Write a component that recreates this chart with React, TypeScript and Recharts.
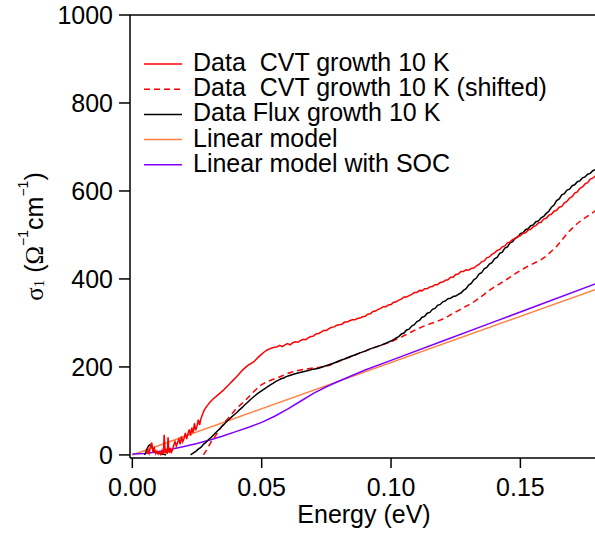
import React from 'react'
import { LineChart, Line, XAxis, YAxis, Legend, ReferenceLine } from 'recharts'

// [energy (eV), sigma_1 (1/(Ohm cm))]
const cvt: [number, number][] = [
  [0.0055, 2], [0.006, 12], [0.0065, 4], [0.007, 20], [0.0075, 28], [0.008, 6], [0.0085, 15], [0.009, 3],
  [0.0095, 9], [0.01, 2], [0.0105, 7], [0.011, 1], [0.0115, 10], [0.012, 3], [0.0123, 46], [0.0127, 4],
  [0.013, 14], [0.0135, 2], [0.0138, 40], [0.0142, 5], [0.0147, 16], [0.015, 4], [0.0155, 12], [0.016, 22],
  [0.0165, 30], [0.017, 20], [0.0175, 28], [0.018, 36], [0.0185, 24], [0.019, 42], [0.0195, 30], [0.02, 38],
  [0.0205, 50], [0.021, 36], [0.0215, 48], [0.022, 58], [0.0225, 44], [0.023, 62], [0.0235, 50], [0.024, 72],
  [0.0245, 56], [0.025, 66], [0.0255, 80], [0.026, 68], [0.0265, 82], [0.027, 90], [0.0275, 98], [0.028, 104],
  [0.029, 112], [0.03, 120], [0.031, 126], [0.032, 131], [0.033, 136], [0.034, 141], [0.035, 146], [0.036, 152],
  [0.037, 158], [0.038, 164], [0.039, 170], [0.04, 176], [0.041, 182], [0.042, 189], [0.043, 195], [0.044, 200],
  [0.045, 205], [0.046, 208], [0.047, 212], [0.048, 218], [0.049, 224], [0.05, 229], [0.051, 234], [0.052, 238],
  [0.053, 241], [0.054, 243], [0.055, 245], [0.056, 246], [0.057, 249], [0.058, 246], [0.059, 250], [0.06, 253],
  [0.061, 250], [0.062, 255], [0.063, 257], [0.064, 256], [0.065, 260], [0.066, 263], [0.067, 262], [0.068, 266],
  [0.069, 269], [0.07, 270], [0.071, 275], [0.072, 276], [0.073, 279], [0.074, 283], [0.075, 283], [0.076, 287],
  [0.077, 290], [0.078, 291], [0.079, 295], [0.08, 296], [0.081, 297], [0.082, 302], [0.083, 302], [0.084, 305],
  [0.085, 307], [0.086, 307], [0.087, 310], [0.088, 311], [0.089, 314], [0.09, 315], [0.091, 320], [0.092, 321],
  [0.093, 326], [0.094, 327], [0.095, 331], [0.096, 333], [0.097, 337], [0.098, 337], [0.099, 341], [0.1, 342],
  [0.101, 347], [0.102, 348], [0.103, 352], [0.104, 354], [0.105, 359], [0.106, 359], [0.107, 362], [0.108, 365],
  [0.109, 369], [0.11, 369], [0.111, 374], [0.112, 373], [0.113, 378], [0.114, 378], [0.115, 382], [0.116, 383],
  [0.117, 387], [0.118, 387], [0.119, 392], [0.12, 393], [0.121, 397], [0.122, 398], [0.123, 404], [0.124, 404],
  [0.125, 410], [0.126, 411], [0.127, 417], [0.128, 417], [0.129, 421], [0.13, 420], [0.131, 424], [0.132, 425],
  [0.133, 430], [0.134, 433], [0.135, 439], [0.136, 441], [0.137, 448], [0.138, 450], [0.139, 456], [0.14, 459],
  [0.141, 465], [0.142, 467], [0.143, 473], [0.144, 475], [0.145, 482], [0.146, 484], [0.147, 490], [0.148, 491],
  [0.149, 497], [0.15, 498], [0.151, 504], [0.152, 505], [0.153, 511], [0.154, 513], [0.155, 519], [0.156, 521],
  [0.157, 528], [0.158, 529], [0.159, 536], [0.16, 538], [0.161, 545], [0.162, 547], [0.163, 554], [0.164, 556],
  [0.165, 563], [0.166, 565], [0.167, 573], [0.168, 576], [0.169, 584], [0.17, 587], [0.171, 595], [0.172, 598],
  [0.173, 606], [0.174, 609], [0.175, 616], [0.176, 619], [0.177, 627], [0.178, 629], [0.1795, 637],
]

const cvtShifted: [number, number][] = [
  [0.0275, 0], [0.029, 14], [0.0305, 30], [0.032, 42], [0.034, 60], [0.036, 76], [0.038, 90], [0.04, 104],
  [0.042, 115], [0.044, 126], [0.046, 138], [0.048, 150], [0.05, 160], [0.052, 166], [0.054, 171], [0.056, 175],
  [0.058, 180], [0.06, 185], [0.062, 189], [0.064, 192], [0.066, 194], [0.068, 196], [0.07, 198], [0.072, 199],
  [0.074, 201], [0.076, 203], [0.078, 208], [0.08, 213], [0.082, 218], [0.084, 222], [0.086, 227], [0.088, 232],
  [0.09, 236], [0.092, 241], [0.094, 245], [0.096, 249], [0.098, 253], [0.1, 257], [0.102, 263], [0.104, 268],
  [0.106, 274], [0.108, 280], [0.11, 286], [0.112, 291], [0.114, 296], [0.116, 300], [0.118, 304], [0.12, 309],
  [0.122, 315], [0.124, 322], [0.126, 328], [0.128, 335], [0.13, 341], [0.132, 348], [0.134, 356], [0.136, 365],
  [0.138, 374], [0.14, 382], [0.142, 389], [0.144, 396], [0.146, 404], [0.148, 412], [0.15, 419], [0.152, 426],
  [0.154, 432], [0.156, 438], [0.158, 444], [0.16, 452], [0.162, 463], [0.164, 474], [0.166, 488], [0.168, 503],
  [0.17, 515], [0.172, 526], [0.174, 535], [0.176, 543], [0.178, 551], [0.1795, 557],
]

// small bump at low energy, then the main onset
const fluxBump: [number, number][] = [
  [0.0047, 0], [0.0052, 6], [0.0057, 14], [0.0062, 20], [0.0067, 23], [0.0072, 22], [0.0077, 17], [0.0082, 12],
  [0.0087, 8], [0.0092, 6], [0.0097, 4], [0.0105, 3], [0.0115, 2], [0.0125, 1], [0.013, 0],
]

const flux: [number, number][] = [
  [0.0225, 0], [0.0235, 4], [0.0245, 8], [0.0255, 13], [0.0265, 17], [0.0275, 24], [0.0285, 29], [0.0295, 35],
  [0.0305, 40], [0.0315, 46], [0.0325, 52], [0.0335, 58], [0.0345, 64], [0.0355, 70], [0.0365, 76], [0.0375, 81],
  [0.0385, 87], [0.0395, 92], [0.0405, 97], [0.0415, 103], [0.0425, 108], [0.0435, 114], [0.0445, 119], [0.0455, 125],
  [0.0465, 130], [0.0475, 135], [0.0485, 140], [0.0495, 144], [0.0505, 148], [0.0515, 152], [0.0525, 156], [0.0535, 160],
  [0.0545, 163], [0.0555, 167], [0.0565, 170], [0.0575, 173], [0.0585, 175], [0.0595, 178], [0.0605, 180], [0.062, 183],
  [0.064, 186], [0.066, 189], [0.068, 192], [0.07, 195], [0.072, 197], [0.074, 201], [0.076, 205], [0.078, 209],
  [0.08, 214], [0.082, 218], [0.084, 223], [0.086, 227], [0.088, 232], [0.09, 236], [0.092, 241], [0.094, 245],
  [0.096, 249], [0.098, 254], [0.1, 259], [0.101, 262], [0.102, 266], [0.103, 269], [0.104, 275], [0.105, 277],
  [0.106, 284], [0.107, 286], [0.108, 293], [0.109, 296], [0.11, 303], [0.111, 306], [0.112, 313], [0.113, 315],
  [0.114, 322], [0.115, 324], [0.116, 331], [0.117, 333], [0.118, 340], [0.119, 342], [0.12, 348], [0.121, 350],
  [0.122, 355], [0.123, 356], [0.124, 360], [0.125, 361], [0.126, 365], [0.127, 368], [0.128, 374], [0.129, 378],
  [0.13, 386], [0.131, 390], [0.132, 398], [0.133, 402], [0.134, 411], [0.135, 414], [0.136, 423], [0.137, 426],
  [0.138, 434], [0.139, 437], [0.14, 446], [0.141, 449], [0.142, 458], [0.143, 461], [0.144, 470], [0.145, 473],
  [0.146, 482], [0.147, 485], [0.148, 493], [0.149, 495], [0.15, 503], [0.151, 505], [0.152, 512], [0.153, 514],
  [0.154, 521], [0.155, 523], [0.156, 530], [0.157, 532], [0.158, 539], [0.159, 542], [0.16, 549], [0.161, 554],
  [0.162, 563], [0.163, 568], [0.164, 578], [0.165, 582], [0.166, 591], [0.167, 594], [0.168, 602], [0.169, 604],
  [0.17, 612], [0.171, 614], [0.172, 621], [0.173, 623], [0.174, 630], [0.175, 632], [0.176, 638], [0.177, 640],
  [0.178, 646], [0.1795, 650],
]

const linear: [number, number][] = [[0, 0], [0.18, 378]]

const linearSoc: [number, number][] = [
  [0, 2], [0.005, 3], [0.01, 7], [0.015, 13], [0.02, 19], [0.025, 26], [0.03, 34], [0.035, 43], [0.04, 53],
  [0.045, 63], [0.05, 74], [0.055, 88], [0.06, 104], [0.065, 122], [0.07, 140], [0.075, 155], [0.08, 168],
  [0.09, 193], [0.1, 215], [0.12, 259], [0.14, 303], [0.16, 347], [0.18, 391],
]

const xTicks = [0, 0.05, 0.1, 0.15]
const yTicks = [0, 200, 400, 600, 800, 1000]

const FONT = '"Liberation Sans", Arial, Helvetica, sans-serif'
const SERIF = '"Liberation Serif", "Times New Roman", serif'
const FONT_SIZE = 25

type Row = { e: number; s: number | null }
const toRows = (pairs: [number, number][]): Row[] => pairs.map(([e, s]) => ({ e, s }))

const series = [
  { name: 'Data  CVT growth 10 K', color: '#ff0000', rows: toRows(cvt) },
  { name: 'Data  CVT growth 10 K (shifted)', color: '#ff0000', dash: '6 4', rows: toRows(cvtShifted) },
  {
    name: 'Data Flux growth 10 K',
    color: '#000000',
    rows: [...toRows(fluxBump), { e: 0.018, s: null }, ...toRows(flux)],
  },
  { name: 'Linear model', color: '#ff8040', rows: toRows(linear) },
  { name: 'Linear model with SOC', color: '#8000ff', rows: toRows(linearSoc) },
]

// models underneath, data on top
const drawOrder = [3, 4, 1, 2, 0]

const renderLegend = () => (
  <svg width={440} height={130} style={{ display: 'block', overflow: 'visible' }}>
    {series.map((s, i) => {
      const y = 16 + i * 25.2
      return (
        <g key={s.name}>
          <line x1={4} x2={42} y1={y} y2={y} stroke={s.color} strokeWidth={1.5} strokeDasharray={s.dash} />
          <text x={53} y={y + 7} fontSize={FONT_SIZE} fontFamily={FONT} fill="#000" style={{ whiteSpace: 'pre' }}>
            {s.name}
          </text>
        </g>
      )
    })}
  </svg>
)

const YLabel = ({ viewBox }: any) => {
  const cy = viewBox ? viewBox.y + viewBox.height / 2 : 236
  const x = 43
  return (
    <text
      x={x}
      y={cy}
      transform={`rotate(-90, ${x}, ${cy})`}
      textAnchor="middle"
      fontSize={FONT_SIZE}
      fontFamily={FONT}
      fill="#000"
    >
      <tspan fontFamily={SERIF}>σ</tspan>
      <tspan fontFamily={SERIF} fontSize={15} dy={1}>1</tspan>
      <tspan dy={-1}> (</tspan>
      <tspan fontFamily={SERIF}>Ω</tspan>
      <tspan fontSize={14} dy={-15}>−1</tspan>
      <tspan dy={15}>cm</tspan>
      <tspan fontSize={14} dy={-15}>−1</tspan>
      <tspan dy={15}>)</tspan>
    </text>
  )
}

const axisStroke = { stroke: '#000', strokeWidth: 1.5 }
const tickStyle = { fill: '#000', fontSize: FONT_SIZE, fontFamily: FONT }

export default function App() {
  return (
    <div style={{ position: 'absolute', left: 0, top: 0, width: 595, height: 535, overflow: 'hidden', background: '#fff' }}>
      <LineChart
        width={600}
        height={535}
        margin={{ top: 15, right: 2, bottom: 12, left: 8 }}
        style={{ fontFamily: FONT }}
      >
        <XAxis
          type="number"
          dataKey="e"
          domain={[-0.0009, 0.18]}
          ticks={xTicks}
          tickFormatter={(v: number) => v.toFixed(2)}
          height={65}
          tickSize={10}
          tickMargin={10}
          axisLine={axisStroke}
          tickLine={axisStroke}
          tick={tickStyle}
          label={{ value: 'Energy (eV)', position: 'insideBottom', offset: 0, fill: '#000', fontSize: FONT_SIZE, fontFamily: FONT }}
        />
        <YAxis
          type="number"
          dataKey="s"
          domain={[-7, 1000]}
          ticks={yTicks}
          width={122}
          tickSize={11}
          tickMargin={6}
          axisLine={axisStroke}
          tickLine={axisStroke}
          tick={tickStyle}
          label={<YLabel />}
        />
        <ReferenceLine y={1000} stroke="#000" strokeWidth={1.5} />
        {drawOrder.map((i) => {
          const s = series[i]
          return (
            <Line
              key={s.name}
              data={s.rows}
              dataKey="s"
              name={s.name}
              type="linear"
              stroke={s.color}
              strokeWidth={1.5}
              strokeDasharray={s.dash}
              dot={false}
              activeDot={false}
              isAnimationActive={false}
            />
          )
        })}
        <Legend
          layout="horizontal"
          verticalAlign="middle"
          align="center"
          content={renderLegend}
          wrapperStyle={{ left: 140, top: 48, width: 440, height: 130 }}
        />
      </LineChart>
    </div>
  )
}
